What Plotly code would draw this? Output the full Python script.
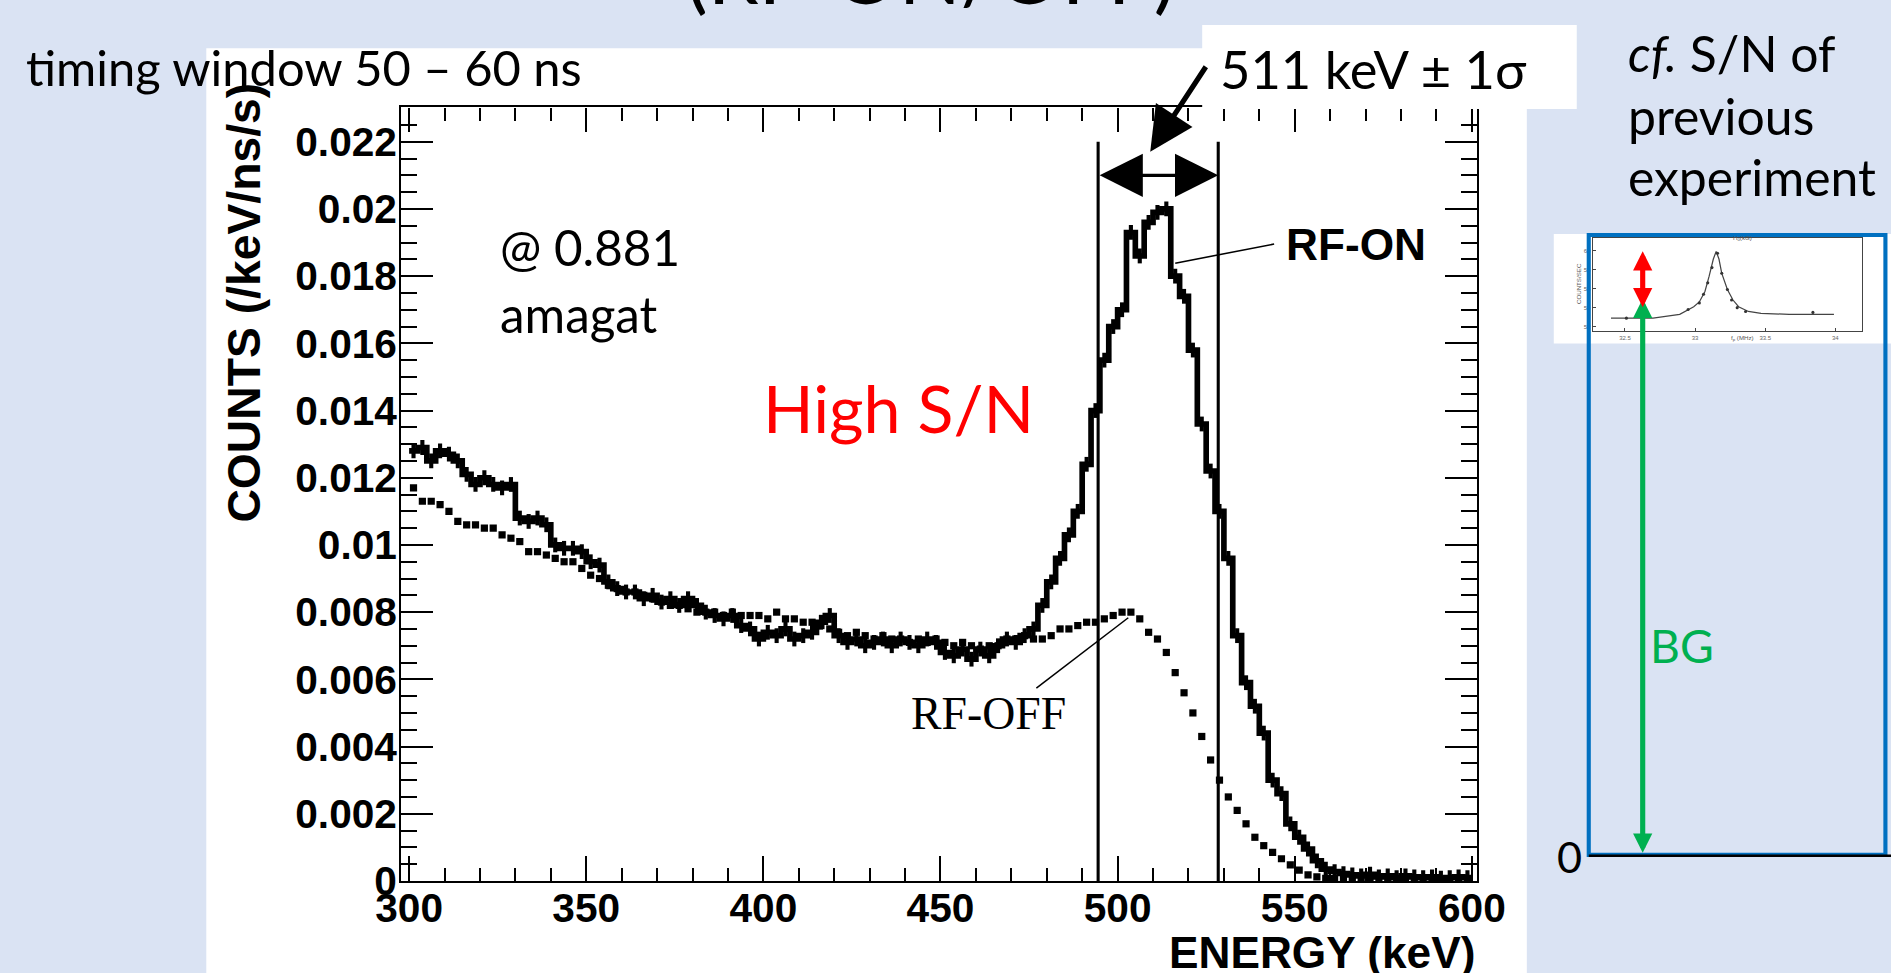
import plotly.graph_objects as go

W, H = 1891, 973

# ---------------- data ----------------
E_START = 300.0
BIN_WIDTH = 2.5

# RF-ON spectrum, counts in units of 1e-3 /keV/ns/s (bins of 2.5 keV from 300 keV)
rf_on = [12.8, 12.9, 12.5, 12.8, 12.7, 12.5, 12.1, 11.8, 12.0, 11.8,
         11.7, 11.8, 10.8, 10.7, 10.8, 10.6, 10.0, 9.9, 9.9, 9.8,
         9.5, 9.4, 8.9, 8.7, 8.6, 8.6, 8.4, 8.5, 8.3, 8.4,
         8.2, 8.4, 8.2, 8.0, 7.9, 7.8, 7.9, 7.6, 7.5, 7.2,
         7.4, 7.3, 7.5, 7.2, 7.3, 7.4, 7.7, 7.9, 7.3, 7.1,
         7.2, 7.0, 7.1, 7.2, 7.0, 7.2, 7.1, 7.0, 7.2, 7.1,
         6.8, 6.7, 6.9, 6.6, 6.9, 6.7, 7.0, 7.2, 7.1, 7.3,
         7.5, 8.2, 8.9, 9.6, 10.3, 11.0, 12.4, 14.0, 15.5, 16.5,
         17.0, 19.3, 18.6, 19.6, 19.9, 20.0, 18.0, 17.4, 15.8, 13.6,
         12.2, 11.0, 9.6, 7.3, 5.9, 5.2, 4.4, 3.0, 2.6, 1.7,
         1.3, 0.95, 0.6, 0.35, 0.28, 0.22, 0.18, 0.15, 0.2, 0.12,
         0.15, 0.1, 0.15, 0.12, 0.1, 0.12, 0.08, 0.1, 0.12, 0.1]

# RF-OFF spectrum, same binning and units
rf_off = [11.7, 11.3, 11.3, 11.2, 11.0, 10.7, 10.6, 10.6, 10.5, 10.5,
          10.3, 10.2, 10.1, 9.8, 9.8, 9.7, 9.6, 9.5, 9.5, 9.3,
          9.1, 9.0, 8.8, 8.7, 8.6, 8.6, 8.5, 8.4, 8.3, 8.2,
          8.2, 8.1, 8.0, 8.0, 8.0, 7.9, 8.0, 7.9, 7.9, 7.9,
          7.8, 8.0, 7.8, 7.8, 7.7, 7.7, 7.6, 7.5, 7.4, 7.3,
          7.4, 7.3, 7.2, 7.3, 7.2, 7.2, 7.1, 7.2, 7.1, 7.2,
          7.1, 7.0, 7.1, 7.0, 6.9, 7.0, 7.0, 7.2, 7.2, 7.3,
          7.2, 7.2, 7.3, 7.5, 7.5, 7.6, 7.7, 7.7, 7.8, 7.9,
          8.0, 8.0, 7.8, 7.4, 7.2, 6.8, 6.2, 5.6, 5.0, 4.3,
          3.6, 3.0, 2.5, 2.1, 1.7, 1.3, 1.05, 0.85, 0.66, 0.48,
          0.32, 0.18, 0.12, 0.08, 0.07, 0.05, 0.05, 0.04, 0.04, 0.03,
          0.04, 0.03, 0.03, 0.02, 0.03, 0.02, 0.02, 0.02, 0.02, 0.02]
ON_ERR = 0.00022

# 511 keV +- 1 sigma window
window_edges = [494.5, 528.4]
window_top = 0.022
window_arrow_level = 0.021

x_ticks = [300, 350, 400, 450, 500, 550, 600]
y_tickvals = [0, 0.002, 0.004, 0.006, 0.008, 0.01, 0.012, 0.014, 0.016, 0.018, 0.02, 0.022]
y_ticktext = ["0", "0.002", "0.004", "0.006", "0.008", "0.01", "0.012", "0.014",
              "0.016", "0.018", "0.02", "0.022"]

# inset: previous experiment (counts/sec vs f_p MHz)
inset_curve_f = [32.40, 32.70, 32.89, 32.93, 32.99, 33.03, 33.07, 33.10, 33.13, 33.15,
                 33.17, 33.19, 33.23, 33.27, 33.31, 33.38, 33.47, 33.67, 33.99]
inset_curve_c = [52.9, 52.9, 53.3, 53.6, 54.1, 54.6, 55.7, 57.3, 59.1, 59.9,
                 59.1, 57.6, 55.9, 54.8, 54.1, 53.6, 53.4, 53.3, 53.3]
inset_pts_f = [32.51, 32.95, 33.03, 33.06, 33.09, 33.12, 33.16, 33.19, 33.23, 33.26, 33.30, 33.36, 33.84]
inset_pts_c = [52.9, 53.8, 54.5, 55.4, 56.6, 58.2, 59.7, 57.6, 55.9, 54.8, 54.0, 53.6, 53.5]
inset_xticks = [32.5, 33.0, 33.5, 34.0]
inset_yticks = [52, 54, 56, 58, 60]

# ---------------- layout helpers ----------------
# the photographed page comes out slightly reduced; compensate so the picture lands
# where the reference has it
S = 0.972
OX = 26.5


def PX(x):
    return ((x - OX) / S) / W


def PY(y):
    return 1 - (y / S) / H


def F(v):
    return v / S


edges = [E_START + BIN_WIDTH * i for i in range(len(rf_on) + 1)]
centers = [E_START + BIN_WIDTH * (i + 0.5) for i in range(len(rf_on))]
on_vals = [v * 1e-3 for v in rf_on]
off_vals = [v * 1e-3 for v in rf_off]

SLIDE_BG = "#DAE3F3"
AX_FONT = "Liberation Sans, Arial, sans-serif"
TXT_FONT = "Lato, Carlito, sans-serif"

fig = go.Figure()

# RF-ON histogram outline
fig.add_trace(go.Scatter(
    x=edges, y=on_vals + [on_vals[-1]], mode="lines", line_shape="hv",
    line=dict(color="black", width=F(5.5)), showlegend=False, hoverinfo="skip"))
# RF-ON error bars
fig.add_trace(go.Scatter(
    x=centers, y=on_vals, mode="markers", marker=dict(size=F(2), color="black"),
    error_y=dict(type="constant", value=ON_ERR, color="black", thickness=F(4), width=0),
    showlegend=False, hoverinfo="skip"))
# RF-OFF points
fig.add_trace(go.Scatter(
    x=centers, y=off_vals, mode="markers",
    marker=dict(symbol="square", size=F(7), color="black"),
    showlegend=False, hoverinfo="skip"))

# inset curve
fig.add_trace(go.Scatter(
    x=inset_curve_f, y=inset_curve_c, mode="lines", line=dict(color="#444", width=F(1.2)),
    xaxis="x3", yaxis="y3", showlegend=False, hoverinfo="skip"))
fig.add_trace(go.Scatter(
    x=inset_pts_f, y=inset_pts_c, mode="markers", marker=dict(size=F(3), color="#333"),
    xaxis="x3", yaxis="y3", showlegend=False, hoverinfo="skip"))

shapes = []
# white area of the slide image
shapes.append(dict(type="rect", xref="paper", yref="paper", x0=PX(207), x1=PX(1529),
                   y0=-0.1, y1=PY(48), fillcolor="white", line=dict(width=0), layer="below"))
# inset white background
shapes.append(dict(type="rect", xref="paper", yref="paper", x0=PX(1556), x1=1.1,
                   y0=PY(342), y1=PY(233), fillcolor="white", line=dict(width=0), layer="below"))
# 511 keV label box
shapes.append(dict(type="rect", xref="paper", yref="paper", x0=PX(1204), x1=PX(1579),
                   y0=PY(108.5), y1=PY(25), fillcolor="white", line=dict(width=0), layer="above"))
# window vertical lines
for e in window_edges:
    shapes.append(dict(type="line", xref="x", yref="y", x0=e, x1=e, y0=0, y1=window_top,
                       line=dict(color="black", width=F(3)), layer="above"))
# label pointer lines
shapes.append(dict(type="line", xref="paper", yref="paper", x0=PX(1276), y0=PY(243),
                   x1=PX(1177), y1=PY(262), line=dict(color="black", width=F(1.5)), layer="above"))
shapes.append(dict(type="line", xref="paper", yref="paper", x0=PX(1038), y0=PY(685),
                   x1=PX(1130), y1=PY(615), line=dict(color="black", width=F(1.5)), layer="above"))
# previous experiment frame
shapes.append(dict(type="rect", xref="paper", yref="paper", x0=PX(1591), x1=PX(1888),
                   y0=PY(851), y1=PY(234), line=dict(color="#0070C0", width=F(4)),
                   fillcolor="rgba(0,0,0,0)", layer="above"))
shapes.append(dict(type="line", xref="paper", yref="paper", x0=PX(1591), x1=1.1,
                   y0=PY(852), y1=PY(852), line=dict(color="black", width=F(2.5)), layer="above"))

ann = []


def text(s, x, y, size, xanchor="left", color="black", family=TXT_FONT, angle=0,
         yanchor="middle", weight="normal"):
    ann.append(dict(text=s, xref="paper", yref="paper", x=PX(x), y=PY(y), showarrow=False,
                    xanchor=xanchor, yanchor=yanchor, textangle=angle,
                    font=dict(family=family, size=F(size), color=color, weight=weight)))


text("(RF-ON/OFF)", 932, 23, 79, xanchor="center", yanchor="bottom")
text("timing window 50 – 60 ns", 24, 67, 47.5)
text("511 keV ± 1σ", 1376, 68, 51, xanchor="center")
text("<i>cf.</i> S/N of", 1628, 53, 48.5)
text("previous", 1628, 115, 48.5)
text("experiment", 1628, 176, 48.5)
text("@ 0.881", 499, 246, 48)
text("amagat", 499, 313, 48)
text("High S/N", 762, 406, 64.5, color="#FF0000")
text("RF-ON", 1286, 243, 43, family=AX_FONT, weight="bold")
text("RF-OFF", 910, 710, 44.5, family="Liberation Serif, Times New Roman, serif")
text("COUNTS (/keV/ns/s)", 245, 301, 45, xanchor="center", family=AX_FONT, angle=-90,
     weight="bold")
text("ENERGY (keV)", 1479, 948, 43, xanchor="right", family=AX_FONT, weight="bold")
text("BG", 1650, 642, 45, color="#00B050")
text("0", 1572, 852, 42, xanchor="center")

# inset tiny labels
text("COUNTS/SEC", 1580, 282, 6, xanchor="center", color="#555", family=AX_FONT, angle=-90)
text("f<sub>p</sub> (MHz)", 1745, 336, 6, xanchor="center", color="#555", family=AX_FONT)
text("H<sub>0</sub>(kG)", 1745, 237, 6, xanchor="center", color="#555", family=AX_FONT)

# 511 keV pointer arrow
ann.append(dict(text="", xref="paper", yref="paper", x=PX(1152), y=PY(151), ax=F(55), ay=F(-84),
                showarrow=True, arrowhead=2, arrowwidth=F(5), arrowsize=1.7, arrowcolor="black",
                standoff=0))
# +-1 sigma double arrow
ann.append(dict(text="", xref="x", yref="y", x=window_edges[1], y=window_arrow_level,
                axref="x", ayref="y", ax=window_edges[0], ay=window_arrow_level,
                showarrow=True, arrowhead=2, arrowside="end+start", arrowwidth=F(3),
                arrowsize=2.8, arrowcolor="black", standoff=0, startstandoff=0))
# previous-experiment arrows
ann.append(dict(text="", xref="paper", yref="paper", x=PX(1645), y=PY(849), ax=0, ay=F(-540),
                showarrow=True, arrowhead=2, arrowside="end+start", arrowwidth=F(5),
                arrowsize=0.75, arrowcolor="#00B050", standoff=0, startstandoff=0))
ann.append(dict(text="", xref="paper", yref="paper", x=PX(1645), y=PY(306), ax=0, ay=F(-56),
                showarrow=True, arrowhead=2, arrowside="end+start", arrowwidth=F(5),
                arrowsize=0.75, arrowcolor="#FF0000", standoff=0, startstandoff=0))

axis_common = dict(showline=True, linecolor="black", linewidth=F(2), mirror="allticks",
                   ticks="inside", tickcolor="black", tickwidth=F(2), showgrid=False,
                   zeroline=False,
                   tickfont=dict(family=AX_FONT, size=F(39.5), color="black", weight="bold"))

fig.update_layout(
    width=W, height=H, margin=dict(l=0, r=0, t=0, b=0),
    paper_bgcolor=SLIDE_BG, plot_bgcolor="white", showlegend=False,
    xaxis=dict(domain=[PX(402), PX(1479)], range=[297.74, 601.41], anchor="y",
               tickvals=x_ticks, ticklen=F(24), ticklabelstandoff=-10,
               minor=dict(dtick=10, ticks="inside", ticklen=F(13), tickwidth=F(2), tickcolor="black"),
               **axis_common),
    yaxis=dict(domain=[PY(877), PY(107)], range=[0, 0.02302], anchor="x",
               tickvals=y_tickvals, ticktext=y_ticktext, ticklen=F(31), ticklabelstandoff=-6,
               minor=dict(dtick=0.0005, ticks="inside", ticklen=F(15), tickwidth=F(2), tickcolor="black"),
               **axis_common),
    xaxis3=dict(domain=[PX(1595), min(1.0, PX(1888))], range=[32.27, 34.19], anchor="y3",
                showline=True, linecolor="#444", linewidth=1, mirror=True, ticks="inside",
                ticklen=3, tickcolor="#444", tickvals=inset_xticks, showgrid=False, zeroline=False,
                tickfont=dict(size=6, color="#666", family=AX_FONT)),
    yaxis3=dict(domain=[PY(330), PY(237)], range=[51.5, 61.3], anchor="x3",
                showline=True, linecolor="#444", linewidth=1, mirror=True, ticks="inside",
                ticklen=3, tickcolor="#444", tickvals=inset_yticks, showgrid=False, zeroline=False,
                tickfont=dict(size=6, color="#666", family=AX_FONT)),
    shapes=shapes, annotations=ann,
)

fig.write_html(
    "out.html",
    config={"displayModeBar": False},
    post_script="document.body.style.margin='0';document.body.style.overflow='hidden';"
                "document.documentElement.style.overflow='hidden';",
)
